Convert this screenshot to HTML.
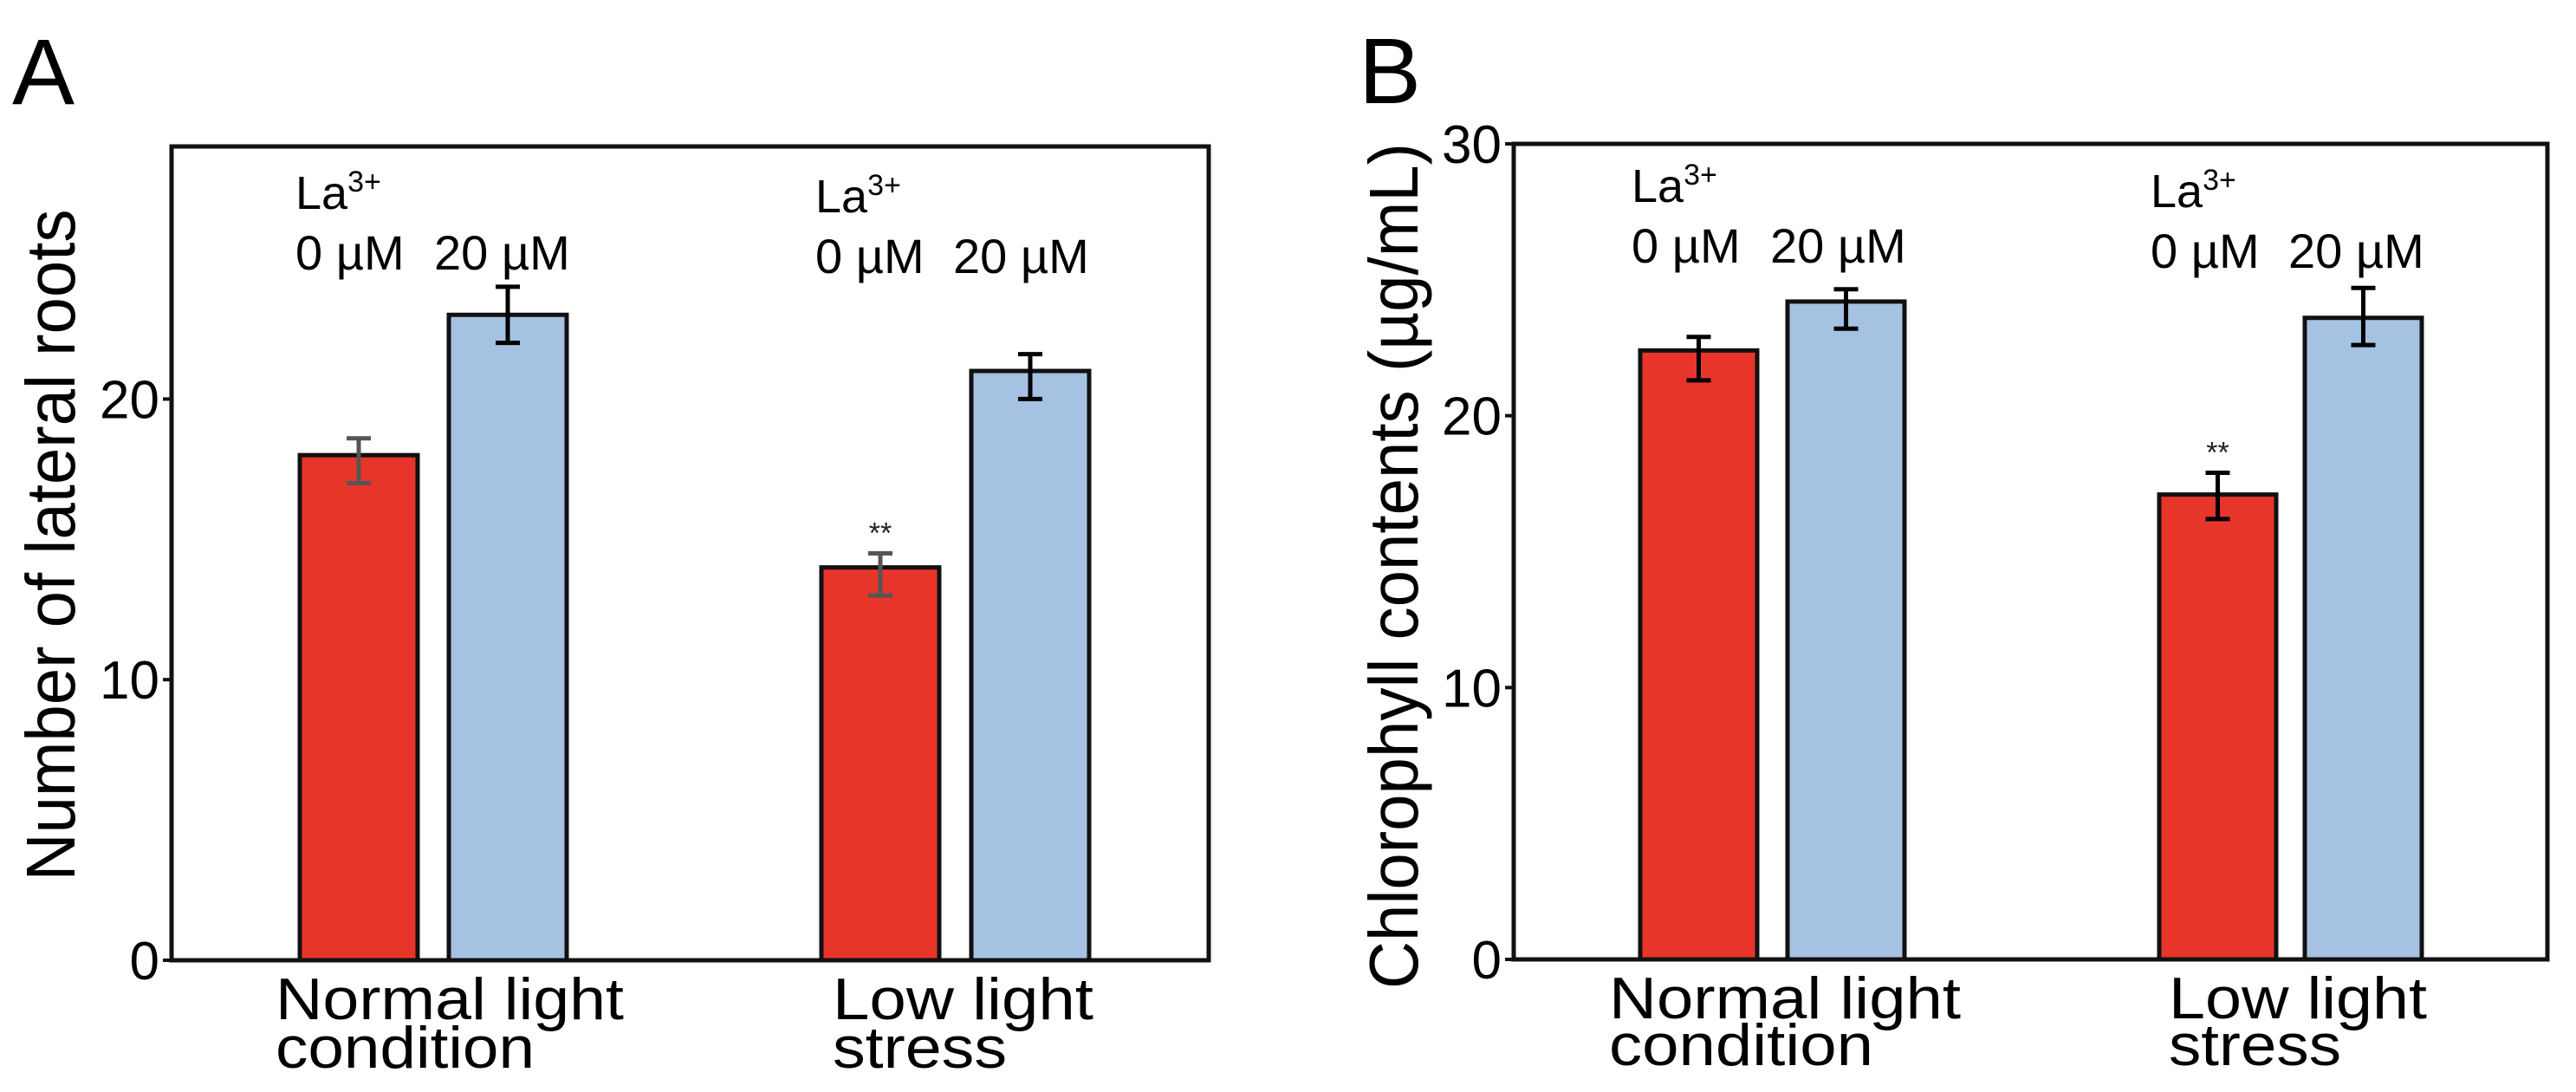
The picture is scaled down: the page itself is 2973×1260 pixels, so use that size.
<!DOCTYPE html>
<html><head><meta charset="utf-8"><style>
html,body{margin:0;padding:0;background:#fff;}
svg{display:block;font-family:"Liberation Sans",Arial,sans-serif;}
</style></head><body>
<svg id="fig" width="2973" height="1260" viewBox="0 0 2973 1260" xmlns="http://www.w3.org/2000/svg">
<text x="14" y="120" font-size="108">A</text>
<text x="1568" y="119" font-size="108">B</text>
<g id="pa"></g>
<g id="pb"></g>
</svg>
<script>
const categories = ["Normal light condition", "Low light stress"];
const seriesNames = ["0 µM", "20 µM"];
const aValues = [18.0, 23.0, 14.0, 21.0];
const aErrLo = [17.0, 22.0, 13.0, 20.0];
const aErrHi = [18.6, 24.0, 14.5, 21.6];
const aTicks = [0, 10, 20];
const bValues = [22.4, 24.2, 17.1, 23.6];
const bErrLo = [21.3, 23.2, 16.2, 22.6];
const bErrHi = [22.9, 24.65, 17.9, 24.7];
const bTicks = [0, 10, 20, 30];

const NS = "http://www.w3.org/2000/svg";
function mk(parent, tag, attrs, text) {
  const e = document.createElementNS(NS, tag);
  for (const k in attrs) e.setAttribute(k, attrs[k]);
  if (text !== undefined) e.textContent = text;
  parent.appendChild(e);
  return e;
}

function drawPanel(g, cfg) {
  const y = v => cfg.bottom - (v - 0) / cfg.ymax * (cfg.bottom - cfg.top);
  // bars
  cfg.values.forEach((v, i) => {
    const x0 = cfg.barX[i];
    const r = mk(g, "rect", {x: x0, y: y(v), width: cfg.barW, height: cfg.bottom - y(v),
      fill: i % 2 === 0 ? "#E8352A" : "#A6C2E2", stroke: "#111", "stroke-width": 5});
    
    
    const cx = x0 + cfg.barW / 2;
    const col = (cfg.grayRed && i % 2 === 0) ? "#555" : "#000";
    const eb = mk(g, "path", {d: `M${cx} ${y(cfg.lo[i])}V${y(cfg.hi[i])}M${cx-14} ${y(cfg.lo[i])}h28M${cx-14} ${y(cfg.hi[i])}h28`,
      stroke: col, "stroke-width": 5, fill: "none"});
    
    
  });
  // frame
  const fr = mk(g, "rect", {x: cfg.left, y: cfg.top, width: cfg.right - cfg.left, height: cfg.bottom - cfg.top,
    fill: "none", stroke: "#111", "stroke-width": 5});
  
  
  // ticks
  cfg.ticks.forEach(t => {
    const tk = mk(g, "line", {x1: cfg.left - 10, x2: cfg.left, y1: y(t), y2: y(t), stroke: "#111", "stroke-width": 4});
    
    
    const tl = mk(g, "text", {x: cfg.left - 14, y: y(t) + 22, "font-size": 62, "text-anchor": "end"}, String(t));
    
    
  });
  // y title
  const yt = mk(g, "text", {x: 0, y: 0, "font-size": 80, "text-anchor": "middle",
    transform: `translate(${cfg.ytX},${cfg.ytY}) rotate(-90)`, textLength: cfg.ytLen, lengthAdjust: "spacingAndGlyphs"}, cfg.ytitle);
  
  
  // category labels
  categories.forEach((c, k) => {
    const parts = k === 0 ? ["Normal light", "condition"] : ["Low light", "stress"];
    const lx = cfg.catX[k];
    const l1 = mk(g, "text", {x: lx, y: cfg.catY1, "font-size": 68, textLength: cfg.catW1[k], lengthAdjust: "spacingAndGlyphs"}, parts[0]);
    
    
    const l2 = mk(g, "text", {x: lx, y: cfg.catY2, "font-size": 68, textLength: cfg.catW2[k], lengthAdjust: "spacingAndGlyphs"}, parts[1]);
    
    
    // La3+ annotation
    const la = mk(g, "text", {x: cfg.laX[k], y: cfg.laY[k], "font-size": 54});
    
    
    la.textContent = "La";
    const sup = mk(la, "tspan", {"font-size": 34, dy: -20}, "3+");
    const s0 = mk(g, "text", {x: cfg.laX[k], y: cfg.laY[k] + 70, "font-size": 56}, seriesNames[0]);
    
    
    const s1 = mk(g, "text", {x: cfg.s20X[k], y: cfg.laY[k] + 70, "font-size": 56}, seriesNames[1]);
    
    
  });
  // significance stars
  const cx = cfg.barX[2] + cfg.barW / 2;
  const st = mk(g, "text", {x: cx, y: y(cfg.hi[2]) - 12, "font-size": 34, "text-anchor": "middle", fill: "#222"}, "**");
  
  
}

drawPanel(document.getElementById("pa"), {
  left: 198, right: 1395, top: 169, bottom: 1108, ymax: 29,
  values: aValues, lo: aErrLo, hi: aErrHi, ticks: aTicks, grayRed: true,
  barX: [346, 518, 948, 1121], barW: 136,
  ytitle: "Number of lateral roots", ytX: 86, ytY: 629, ytLen: 775,
  catX: [318, 961], catY1: 1176, catY2: 1232, catW1: [402, 301], catW2: [299, 201],
  laX: [341, 941], laY: [241, 245], s20X: [501, 1100]
});
drawPanel(document.getElementById("pb"), {
  left: 1747, right: 2940, top: 166, bottom: 1107, ymax: 30,
  values: bValues, lo: bErrLo, hi: bErrHi, ticks: bTicks, grayRed: false,
  barX: [1893, 2063, 2492, 2660], barW: 135,
  ytitle: "Chlorophyll contents (µg/mL)", ytX: 1636, ytY: 653, ytLen: 976,
  catX: [1857, 2503], catY1: 1175, catY2: 1229, catW1: [406, 298], catW2: [305, 199],
  laX: [1883, 2482], laY: [233, 239], s20X: [2043, 2641]
});
</script>
</body></html>
